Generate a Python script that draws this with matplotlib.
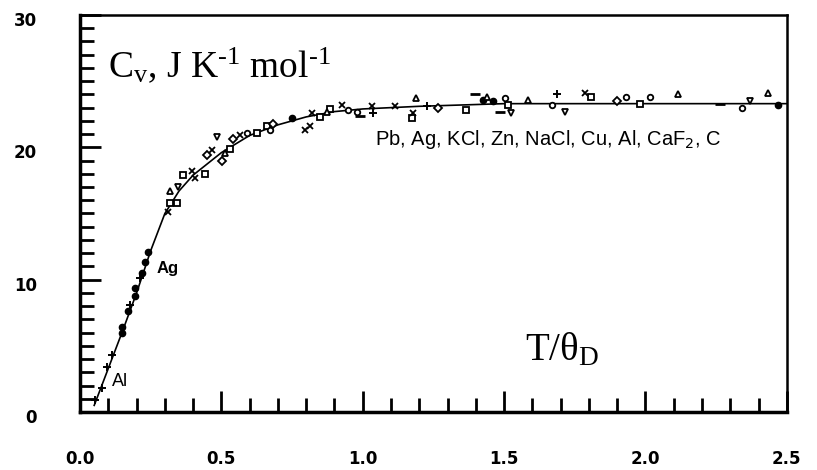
import matplotlib
matplotlib.use('Agg')
from matplotlib import pyplot as plt
from matplotlib.ticker import MultipleLocator
from matplotlib.transforms import ScaledTranslation

plt.rcParams['mathtext.fontset'] = 'custom'
plt.rcParams['mathtext.rm'] = 'Liberation Serif'
plt.rcParams['mathtext.it'] = 'Liberation Serif:italic'

# smooth Debye-like curve drawn through the data
curve_x = [0.05, 0.10, 0.15, 0.20, 0.25, 0.30, 0.35, 0.40, 0.50, 0.60, 0.70,
           0.80, 0.90, 1.00, 1.20, 1.50, 2.00, 2.50]
curve_y = [0.5, 3.3, 6.1, 9.0, 12.2, 15.0, 16.7, 17.9, 19.6, 20.9, 21.7,
           22.3, 22.7, 22.9, 23.1, 23.3, 23.3, 23.3]

# measured points, grouped by marker type
al_x = [0.053, 0.077, 0.094, 0.112, 0.177, 0.212, 1.037, 1.226, 1.686]
al_y = [0.9, 1.8, 3.4, 4.3, 8.1, 10.1, 22.6, 23.1, 24.0]

ag_x = [0.147, 0.147, 0.171, 0.194, 0.194, 0.218, 0.230, 0.242, 0.749, 1.461, 1.426, 2.469]
ag_y = [6.0, 6.4, 7.6, 8.8, 9.4, 10.5, 11.3, 12.1, 22.2, 23.5, 23.6, 23.2]

sq_x = [0.318, 0.342, 0.365, 0.442, 0.530, 0.625, 0.660, 0.849, 0.884, 1.173,
        1.367, 1.515, 1.980, 1.809]
sq_y = [15.8, 15.8, 17.9, 18.0, 19.9, 21.1, 21.6, 22.3, 22.9, 22.2,
        22.8, 23.2, 23.3, 23.8]

x_x = [0.312, 0.395, 0.407, 0.466, 0.566, 0.796, 0.813, 0.819, 0.925, 1.031,
       1.114, 1.179, 1.785]
x_y = [15.1, 18.2, 17.7, 19.8, 20.9, 21.3, 21.6, 22.6, 23.2, 23.1,
       23.1, 22.6, 24.1]

tri_x = [0.318, 0.513, 0.872, 1.190, 1.438, 1.585, 2.116, 2.434]
tri_y = [16.7, 19.6, 22.7, 23.7, 23.8, 23.6, 24.0, 24.1]

inv_x = [0.348, 0.483, 1.526, 1.715, 2.369]
inv_y = [17.0, 20.8, 22.6, 22.7, 23.5]

dia_x = [0.448, 0.501, 0.684, 1.267, 1.898, 0.542]
dia_y = [19.4, 19.0, 21.8, 23.0, 23.5, 20.6]

circ_x = [0.589, 0.672, 0.978, 1.503, 1.933, 2.340, 2.015, 0.949, 1.668]
circ_y = [21.1, 21.3, 22.7, 23.7, 23.8, 23.0, 23.8, 22.8, 23.2]

dash_x = [0.990, 1.485, 2.263, 1.397]
dash_y = [22.4, 22.7, 23.3, 24.0]

xticks = [0.0, 0.5, 1.0, 1.5, 2.0, 2.5]
yticks = [0, 10, 20, 30]

fig = plt.figure(figsize=(8.17, 4.70), dpi=100)
ax = fig.add_axes([0.098, 0.1234, 0.865, 0.8447])

ax.plot(curve_x, curve_y, color='black', lw=1.2)
ms = 5
ax.plot(al_x, al_y, '+', color='black', ms=ms + 1, mew=1.4)
ax.plot(ag_x, ag_y, 'o', color='black', ms=ms - 0.5)
ax.plot(sq_x, sq_y, 's', mfc='white', mec='black', ms=ms, mew=1.3)
ax.plot(x_x, x_y, 'x', color='black', ms=ms, mew=1.3)
ax.plot(tri_x, tri_y, '^', mfc='white', mec='black', ms=ms, mew=1.3)
ax.plot(inv_x, inv_y, 'v', mfc='white', mec='black', ms=ms, mew=1.3)
ax.plot(dia_x, dia_y, 'D', mfc='white', mec='black', ms=ms - 1, mew=1.3)
ax.plot(circ_x, circ_y, 'o', mfc='white', mec='black', ms=ms - 1, mew=1.3)
ax.plot(dash_x, dash_y, '_', color='black', ms=ms + 2, mew=2)

ax.set_xlim(0, 2.5)
ax.set_ylim(0, 30)
ax.set_xticks(xticks)
ax.set_yticks(yticks)
ax.set_xticklabels(['%.1f' % v for v in xticks])
ax.set_yticklabels([str(v) for v in yticks])
ax.xaxis.set_minor_locator(MultipleLocator(0.1))
ax.yaxis.set_minor_locator(MultipleLocator(1))

ax.tick_params(which='both', direction='in', top=False, right=False, width=2, color='black')
ax.tick_params(which='major', length=15)
ax.tick_params(which='minor', length=10)
ax.tick_params(axis='x', which='major', pad=27)
ax.tick_params(axis='y', which='major', pad=31)
for lab in ax.get_xticklabels() + ax.get_yticklabels():
    lab.set_fontfamily('DejaVu Sans')
    lab.set_fontweight('bold')
    lab.set_fontsize(12)
# y labels sit a few pixels below their ticks in the original
for lab in ax.get_yticklabels():
    lab.set_transform(lab.get_transform() + ScaledTranslation(0, -0.04, fig.dpi_scale_trans))

for side in ['left', 'bottom']:
    ax.spines[side].set_linewidth(2.5)
for side in ['top', 'right']:
    ax.spines[side].set_linewidth(1.8)

ax.text(0.099, 25.3, r'C$_\mathrm{v}$, J K$^\text{-1}$ mol$^\text{-1}$',
        family='Liberation Serif', fontsize=27)
ax.text(1.574, 3.93, r'T/$\mathrm{\theta}_\mathrm{D}$',
        family='Liberation Serif', fontsize=28)
ax.text(0.272, 10.5, 'Ag', family='Liberation Sans', fontweight='bold', fontsize=12)
ax.text(0.113, 2.0, 'Al', family='Liberation Sans', fontsize=13)
ax.text(1.043, 20.2, r'Pb, Ag, KCl, Zn, NaCl, Cu, Al, CaF$_\mathsf{2}$, C',
        family='Liberation Sans', fontsize=14.5)

fig.savefig('out.png', dpi=100)
